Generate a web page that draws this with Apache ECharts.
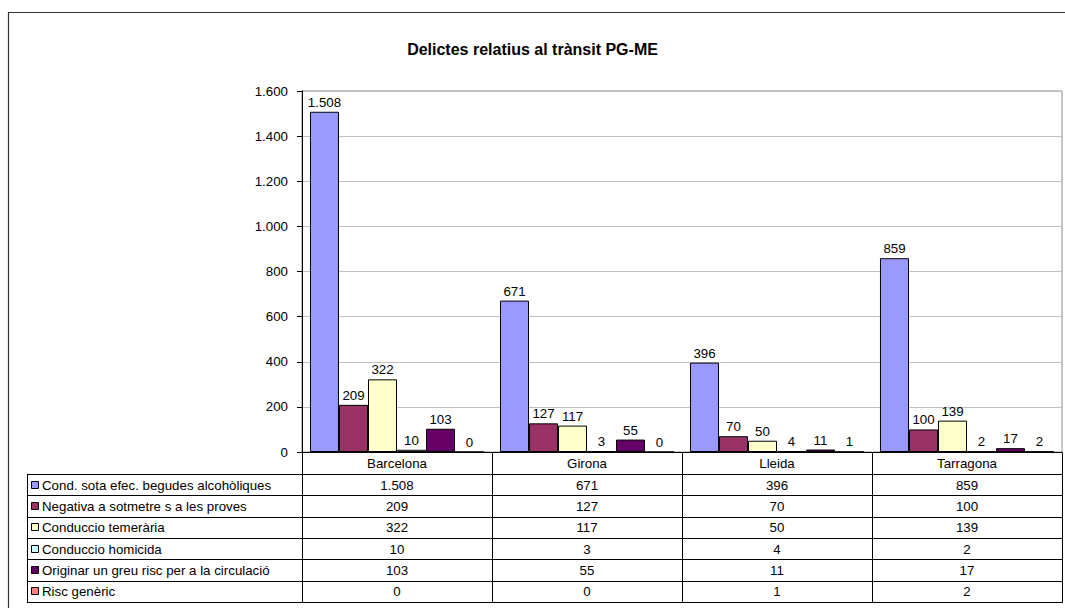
<!DOCTYPE html>
<html>
<head>
<meta charset="utf-8">
<script src="https://cdn.jsdelivr.net/npm/echarts@6/dist/echarts.min.js"></script>
<style>
html,body{margin:0;padding:0;background:#fff;}
#chart{width:1065px;height:608px;}
</style>
</head>
<body>
<div id="chart"></div>
<script>
const titleText = 'Delictes relatius al trànsit PG-ME';
const categories = ['Barcelona', 'Girona', 'Lleida', 'Tarragona'];
const seriesNames = [
  'Cond. sota efec. begudes alcohòliques',
  'Negativa a sotmetre s a les proves',
  'Conduccio temerària',
  'Conduccio homicida',
  'Originar un greu risc per a la circulació',
  'Risc genèric'
];
const condAlcohol = [1508, 671, 396, 859];
const negativaProves = [209, 127, 70, 100];
const conduccioTemeraria = [322, 117, 50, 139];
const conduccioHomicida = [10, 3, 4, 2];
const greuRisc = [103, 55, 11, 17];
const riscGeneric = [0, 0, 1, 2];
const seriesValues = [condAlcohol, negativaProves, conduccioTemeraria, conduccioHomicida, greuRisc, riscGeneric];
const seriesColors = ['#9999FF', '#993366', '#FFFFCC', '#CCFFFF', '#660066', '#FF8080'];
const yMin = 0, yMax = 1600, yStep = 200;

const FONT = 'Arial, "Liberation Sans", sans-serif';
const FS = 13.3;
function fmt(n) { return String(n).replace(/\B(?=(\d{3})+(?!\d))/g, '.'); }

const chart = echarts.init(document.getElementById('chart'), null, { renderer: 'svg' });

const option = {
  animation: false,
  backgroundColor: '#fff',
  title: {
    text: titleText,
    left: 'center',
    top: 36,
    textStyle: { fontFamily: FONT, fontSize: 16, fontWeight: 'bold', color: '#000' }
  },
  grid: {
    left: 302, right: 3, top: 91, bottom: 156,
    show: true, borderColor: '#8c8c8c', borderWidth: 1, backgroundColor: 'transparent'
  },
  xAxis: {
    type: 'category',
    data: categories,
    axisLine: { lineStyle: { color: '#000', width: 1 } },
    axisTick: { show: false },
    axisLabel: { color: '#000', fontFamily: FONT, fontSize: FS, margin: 5 }
  },
  yAxis: {
    type: 'value',
    min: yMin, max: yMax, interval: yStep,
    axisLine: { show: true, lineStyle: { color: '#000', width: 1 } },
    axisTick: { show: true, length: 5, lineStyle: { color: '#000' } },
    axisLabel: { color: '#000', fontFamily: FONT, fontSize: FS, margin: 14, formatter: v => fmt(v) },
    splitLine: { lineStyle: { color: '#c0c0c0', width: 1 } }
  },
  series: seriesNames.map((name, i) => ({
    name: name,
    type: 'bar',
    data: seriesValues[i],
    barGap: '0%',
    barCategoryGap: '8.4%',
    itemStyle: { color: seriesColors[i], borderColor: '#000', borderWidth: 1 },
    label: {
      show: true, position: 'top', distance: 3,
      color: '#000', fontFamily: FONT, fontSize: FS,
      formatter: p => fmt(p.value)
    }
  }))
};
chart.setOption(option);

// Data table below the plot, positioned from the chart's own axes
const c0 = chart.convertToPixel({ xAxisIndex: 0 }, categories[0]);
const c1 = chart.convertToPixel({ xAxisIndex: 0 }, categories[1]);
const band = c1 - c0;
const yZero = chart.convertToPixel({ yAxisIndex: 0 }, 0);
const centers = categories.map(c => chart.convertToPixel({ xAxisIndex: 0 }, c));
const bounds = [centers[0] - band / 2].concat(centers.map(c => c + band / 2));
const tableLeft = 27;
const headerH = 22;
const rowH = 21.3;
const tableTop = yZero + headerH;
const tableBottom = tableTop + rowH * seriesNames.length;
const crisp = v => Math.round(v) + 0.5;

const g = [];
// outer chart frame
g.push({ type: 'rect', shape: { x: 8.5, y: 12.5, width: 1200, height: 800 },
  style: { fill: 'none', stroke: '#333', lineWidth: 1.2 }, silent: true, z: 0 });
// horizontal rows
for (let i = 0; i <= seriesNames.length; i++) {
  const y = crisp(tableTop + i * rowH);
  g.push({ type: 'line', shape: { x1: tableLeft, y1: y, x2: crisp(bounds[bounds.length - 1]), y2: y },
    style: { stroke: '#000', lineWidth: 1 }, silent: true, z: 10 });
}
// left edge of the legend column
g.push({ type: 'line', shape: { x1: crisp(tableLeft), y1: crisp(tableTop), x2: crisp(tableLeft), y2: crisp(tableBottom) },
  style: { stroke: '#000', lineWidth: 1 }, silent: true, z: 10 });
// category boundaries
bounds.forEach(b => {
  g.push({ type: 'line', shape: { x1: crisp(b), y1: crisp(yZero), x2: crisp(b), y2: crisp(tableBottom) },
    style: { stroke: '#000', lineWidth: 1 }, silent: true, z: 10 });
});
// legend keys, names and values
seriesNames.forEach((name, i) => {
  const yc = tableTop + (i + 0.5) * rowH;
  g.push({ type: 'rect', shape: { x: 31.5, y: Math.round(yc - 4) + 0.5, width: 7, height: 7 },
    style: { fill: seriesColors[i], stroke: '#000', lineWidth: 1 }, silent: true, z: 10 });
  g.push({ type: 'text', x: 42, y: yc + 0.5,
    style: { text: name, font: FS + 'px ' + FONT, fill: '#000', textAlign: 'left', textVerticalAlign: 'middle' },
    silent: true, z: 10 });
  seriesValues[i].forEach((v, j) => {
    g.push({ type: 'text', x: centers[j], y: yc + 0.5,
      style: { text: fmt(v), font: FS + 'px ' + FONT, fill: '#000', textAlign: 'center', textVerticalAlign: 'middle' },
      silent: true, z: 10 });
  });
});
chart.setOption({ graphic: g });
</script>
</body>
</html>
